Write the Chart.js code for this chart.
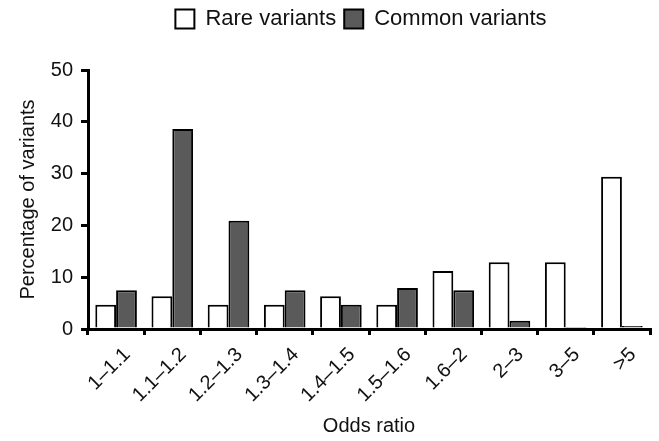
<!DOCTYPE html>
<html>
<head>
<meta charset="utf-8">
<script src="https://cdn.jsdelivr.net/npm/chart.js@4/dist/chart.umd.min.js"></script>
<style>
  html, body { margin: 0; padding: 0; background: #fff; }
</style>
</head>
<body>
<canvas id="orChart" width="659" height="441"></canvas>
<script>
// odds ratio bins
const oddsBins = ["1\u20131.1", "1.1\u20131.2", "1.2\u20131.3", "1.3\u20131.4", "1.4\u20131.5",
  "1.5\u20131.6", "1.6\u20132", "2\u20133", "3\u20135", ">5"];

// percentage of variants in each bin
const rareVariants = [4.7, 6.3, 4.7, 4.7, 6.3, 4.7, 11.2, 12.9, 12.9, 29.4];
const commonVariants = [7.5, 38.6, 20.9, 7.5, 4.7, 7.9, 7.5, 1.6, 0.2, 0.6];

const yTicks = [0, 10, 20, 30, 40, 50];

const fontFamily = "'Liberation Sans', Arial, Helvetica, sans-serif";

// leave more room under the legend and nudge it right, like the original figure
const legendSpacing = {
  id: "legendSpacing",
  beforeLayout(chart) {
    const lg = chart.legend;
    if (lg && !lg._spaced) {
      const fit = lg.fit;
      lg.fit = function () {
        fit.call(this);
        this.height += 30;
      };
      lg._spaced = true;
    }
  },
  afterLayout(chart) {
    const lg = chart.legend;
    if (lg) {
      lg.left += 30;
      lg.right += 30;
    }
  }
};

new Chart(document.getElementById("orChart"), {
  type: "bar",
  data: {
    labels: oddsBins,
    datasets: [
      {
        label: "Rare variants",
        data: rareVariants,
        backgroundColor: "#ffffff",
        borderColor: "#000000",
        borderWidth: 2
      },
      {
        label: "Common variants",
        data: commonVariants,
        backgroundColor: "#5a5a5a",
        borderColor: "#000000",
        borderWidth: 2
      }
    ]
  },
  options: {
    responsive: false,
    animation: false,
    layout: {
      padding: { left: 12, right: 9, top: 0, bottom: 3 }
    },
    datasets: {
      bar: {
        categoryPercentage: 0.74,
        barPercentage: 1.0
      }
    },
    plugins: {
      legend: {
        labels: {
          boxWidth: 19,
          boxHeight: 19,
          padding: 8,
          color: "#111",
          font: { size: 22, family: fontFamily }
        }
      },
      tooltip: { enabled: false }
    },
    scales: {
      x: {
        border: { color: "#000", width: 3 },
        grid: {
          display: true,
          drawOnChartArea: false,
          drawTicks: true,
          tickLength: 6,
          color: "#000",
          lineWidth: 3
        },
        ticks: {
          minRotation: 45,
          maxRotation: 45,
          padding: 8,
          labelOffset: 11,
          color: "#111",
          font: { size: 20, family: fontFamily }
        },
        title: {
          display: true,
          text: "Odds ratio",
          color: "#111",
          padding: { top: 4, bottom: 0 },
          font: { size: 20, family: fontFamily }
        },
        afterFit: function (scale) {
          scale.height = 109;
        }
      },
      y: {
        min: 0,
        max: 50,
        afterBuildTicks: function (scale) {
          scale.ticks = yTicks.map(v => ({ value: v }));
        },
        border: { color: "#000", width: 3 },
        grid: {
          display: true,
          drawOnChartArea: false,
          drawTicks: true,
          tickLength: 7,
          color: "#000",
          lineWidth: 3
        },
        ticks: {
          padding: 8,
          color: "#111",
          font: { size: 20, family: fontFamily }
        },
        title: {
          display: true,
          text: "Percentage of variants",
          color: "#111",
          padding: { top: 4, bottom: 4 },
          font: { size: 20, family: fontFamily }
        },
        afterFit: function (scale) {
          scale.width = 76;
        }
      }
    }
  },
  plugins: [legendSpacing]
});
</script>
</body>
</html>
